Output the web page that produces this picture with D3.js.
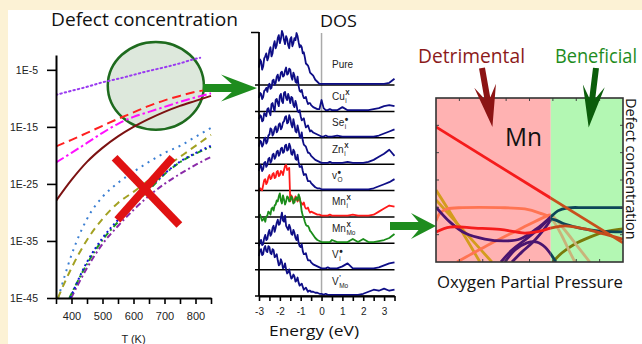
<!DOCTYPE html>
<html>
<head>
<meta charset="utf-8">
<script src="https://cdn.jsdelivr.net/npm/d3@7"></script>
<style>
  body { margin: 0; background: #fcf2d5; }
  svg { display: block; }
</style>
</head>
<body>
<svg id="chart" width="642" height="344"></svg>
<script>
// ---------- left panel: defect concentration vs temperature ----------
const tempTicks = [400, 500, 600, 700, 800];
const concTicks = [-45, -35, -25, -15, -5];
const tGrid = [350, 400, 450, 500, 550, 600, 650, 700, 750, 800, 850];

const tPurpleDot = [350, 400, 450, 500, 550, 600, 650, 700, 750, 800, 815];
const cPurpleDot = [-9.39, -8.68, -7.98, -7.19, -6.58, -5.88, -5.18, -4.56, -3.86, -3.07, -2.89];
const tRedDash = [350, 400, 450, 500, 550, 600, 650, 700, 750, 800, 827];
const cRedDash = [-18.42, -17.28, -16.05, -14.82, -13.6, -12.46, -11.32, -10.35, -9.56, -8.86, -8.6];
const cMagenta = [-21.23, -19.56, -17.81, -16.05, -14.47, -13.25, -12.37, -11.49, -10.61, -9.82, -9.12];
const cDarkRed = [-27.98, -24.3, -21.14, -18.68, -16.67, -15.0, -13.6, -12.37, -11.32, -10.44, -9.56];
const tBlueDot = [357, 400, 450, 500, 550, 600, 650, 700, 750, 800, 850];
const cBlueDot = [-45, -37.46, -31.14, -27.28, -24.82, -22.89, -21.14, -19.56, -18.33, -16.75, -15.18];
const tOlive = [356, 400, 450, 500, 550, 600, 650, 700, 750, 800, 850];
const cOlive = [-45, -39.74, -34.82, -31.14, -28.33, -26.4, -24.3, -22.19, -20.26, -18.33, -16.4];
const tGreen = [393, 450, 500, 550, 600, 650, 700, 750, 800, 850];
const cGreen = [-45, -39.04, -34.82, -31.67, -28.68, -26.05, -23.3, -21.2, -19.7, -18.5];
const tNavy = [396, 450, 500, 550, 600, 650, 700, 750, 800, 850];
const cNavy = [-45, -38.7, -34.5, -31.3, -28.4, -25.8, -23.2, -21.1, -19.6, -18.3];
const tViolet = [399, 450, 500, 550, 600, 650, 700, 750, 800, 850];
const cViolet = [-45, -39.74, -35.53, -32.37, -29.56, -27.1, -25.0, -23.25, -21.67, -20.26];

// highlighted region and crossed-out region, in (T, log c)
const highlight = { t: 672, c: -7.8, rt: 155, rc: 7.7 };
const crossT = [539, 748, 726, 548];
const crossC = [-20.4, -32.2, -20.4, -31.3];

// ---------- middle panel: DOS ----------
const energyTicks = [-3, -2.5, -2, -1.5, -1, -0.5, 0, 0.5, 1, 1.5, 2, 2.5, 3, 3.5];
const energyGrid = [
  -3.0, -2.95, -2.9, -2.85, -2.8, -2.75, -2.7, -2.65, -2.6, -2.55, -2.5, -2.45, -2.4, -2.35, -2.3, -2.25,
  -2.2, -2.15, -2.1, -2.05, -2.0, -1.95, -1.9, -1.85, -1.8, -1.75, -1.7, -1.65, -1.6, -1.55, -1.5, -1.45,
  -1.4, -1.35, -1.3, -1.25, -1.2, -1.15, -1.1, -1.05, -1.0, -0.95, -0.9, -0.85, -0.8, -0.75, -0.7, -0.65,
  -0.6, -0.55, -0.5,
  -0.4, -0.3, -0.2, -0.1, 0.0, 0.1, 0.2, 0.3, 0.4, 0.5,
  0.75, 1.0, 1.25, 1.5, 1.75, 2.0, 2.25, 2.5, 2.75, 3.0, 3.25, 3.5];
const dosPure = [16, 24, 22, 14, 17, 25, 27, 30, 23, 26, 33, 36, 27, 30, 38, 42, 35, 38, 45, 48, 40, 44, 52, 49, 43,
  39, 47, 44, 38, 35, 44, 46, 37, 40, 45, 43, 50, 47, 41, 36, 38, 36, 30, 31, 26, 20, 19, 18, 15, 11, 10,
  8, 4, 2, 0, 0, 0, 0, 0, 0, 0,
  0, 0, 0, 0, 0, 0, 0, 0, 0, 0, 1, 5];
const dosCu = [12, 17, 16, 11, 13, 19, 20, 22, 18, 24, 26, 21, 22, 29, 30, 25, 27, 33, 35, 29, 31, 37, 38, 33, 34,
  39, 42, 35, 36, 41, 40, 33, 30, 37, 34, 28, 27, 33, 24, 19, 18, 20, 15, 12, 12, 13, 9, 6, 7, 7, 5,
  3, 2, 1, 1, 10, 2, 0, 0, 1, 0,
  0, 3, 0, 0, 0, 0, 0, 1, 2, 4, 5, 4];
const dosSe = [17, 21, 20, 15, 16, 23, 22, 20, 27, 28, 24, 21, 32, 33, 28, 25, 36, 37, 33, 30, 40, 42, 35, 33, 43,
  44, 38, 36, 42, 38, 33, 39, 38, 31, 29, 35, 31, 25, 24, 26, 20, 16, 17, 18, 13, 9, 10, 11, 8, 5, 6,
  4, 3, 2, 1, 0, 0, 1, 0, 0, 0,
  1, 0, 0, 0, 0, 0, 0, 0, 1, 3, 5, 7];
const dosZn = [16, 22, 21, 16, 18, 24, 25, 19, 21, 27, 28, 34, 33, 27, 29, 34, 36, 30, 32, 38, 39, 33, 35, 40, 41,
  45, 46, 39, 40, 47, 44, 38, 35, 43, 38, 31, 30, 37, 32, 26, 25, 30, 22, 18, 17, 16, 13, 10, 10, 9, 7,
  5, 3, 2, 1, 0, 0, 0, 0, 1, 0,
  0, 0, 1, 0, 0, 0, 1, 3, 6, 9, 13, 7];
const dosVO = [18, 24, 23, 18, 20, 26, 27, 22, 24, 30, 31, 26, 28, 34, 35, 30, 32, 37, 38, 33, 35, 40, 41, 36, 37,
  43, 44, 38, 39, 45, 42, 35, 34, 39, 37, 30, 29, 34, 27, 22, 22, 23, 18, 14, 15, 15, 11, 8, 8, 8, 6,
  4, 2, 1, 1, 0, 0, 0, 0, 0, 0,
  0, 0, 0, 0, 0, 0, 0, 1, 3, 5, 7, 10];
const dosMnI = [24, 27, 26, 25, 30, 35, 36, 31, 33, 38, 40, 36, 37, 41, 42, 37, 38, 43, 44, 39, 40, 44, 43, 40, 45,
  49, 50, 45, 46, 47, 14, 20, 18, 13, 15, 19, 17, 14, 16, 17, 13, 12, 11, 13, 9, 7, 7, 8, 5, 3, 4,
  3, 2, 1, 1, 0, 0, 0, 0, 1, 0,
  0, 0, 0, 1, 0, 0, 0, 1, 4, 7, 10, 9];
const dosMnMo = [25, 27, 24, 21, 22, 24, 20, 25, 26, 30, 29, 27, 33, 34, 31, 36, 37, 41, 40, 45, 48, 41, 38, 46, 42,
  37, 40, 45, 44, 40, 41, 45, 43, 38, 39, 43, 44, 41, 47, 44, 38, 30, 26, 24, 20, 17, 16, 16, 14, 11, 10,
  7, 4, 2, 1, 0, 0, 0, 0, 0, 2,
  0, 0, 0, 3, 0, 3, 0, 0, 1, 2, 4, 8];
const dosVI = [22, 27, 28, 23, 24, 30, 33, 28, 29, 35, 38, 32, 34, 40, 42, 36, 40, 45, 48, 43, 44, 50, 55, 47, 46,
  52, 42, 40, 38, 43, 40, 34, 33, 38, 35, 30, 28, 33, 25, 22, 21, 24, 17, 14, 14, 15, 11, 8, 8, 8, 6,
  4, 3, 2, 1, 0, 0, 0, 1, 0, 0,
  0, 2, 5, 0, 0, 0, 0, 0, 1, 3, 5, 6];
const dosVMo = [38, 44, 45, 39, 40, 46, 48, 43, 42, 48, 47, 41, 40, 45, 44, 37, 38, 40, 34, 29, 30, 35, 32, 26, 27,
  31, 25, 21, 22, 25, 20, 16, 17, 20, 18, 13, 14, 17, 12, 9, 10, 11, 8, 5, 6, 7, 5, 3, 4, 4, 3,
  3, 2, 2, 1, 1, 0, 1, 0, 0, 0,
  0, 0, 0, 0, 0, 1, 3, 5, 4, 6, 4, 5];
// [main, subscript, superscript]
const dosLabels = [['Pure', '', ''], ['Cu', 'i', 'X'], ['Se', 'i', '•'], ['Zn', 'i', 'X'], ['v', 'O', '•'],
  ['Mn', 'i', 'X'], ['Mn', 'Mo', 'X'], ['V', 'i', '•'], ['V', 'Mo', "'"]];

// ---------- right panel: defect concentration vs oxygen partial pressure ----------
const regionSplit = 4.91;
const pStraight = [0, 8], dStraight = [4.94, 0.70];
const pGoldA = [0, 0.94, 1.88], dGoldA = [2.63, 1.35, 0];
const pGoldB = [0, 1.2, 2.39], dGoldB = [2.27, 1.13, 0];
const pSalmonTop = [0, 0.17, 0.47, 1.15, 2.74, 3.80, 4.44, 4.91, 5.30, 5.64, 5.94];
const dSalmonTop = [1.50, 1.79, 1.94, 1.99, 1.99, 1.94, 1.79, 1.61, 1.10, 0.51, 0];
const pSalmonRise = [0.90, 1.45, 2.31, 3.16, 4.02, 4.66, 4.91, 5.51, 6.07, 6.58];
const dSalmonRise = [0, 0.26, 0.66, 1.02, 1.39, 1.65, 1.72, 1.17, 0.55, 0];
const pRedLow = [0, 0.60, 1.67, 2.74, 3.80, 4.44, 4.91, 5.51, 6.37, 7.22, 7.99];
const dRedLow = [1.10, 1.28, 1.24, 1.19, 1.06, 1.13, 1.24, 1.32, 1.21, 1.02, 0.84];
const pPurple1 = [0, 0.60, 1.24, 2.09, 2.95, 3.59, 4.23, 4.66, 4.91, 5.21, 5.64, 6.37, 7.99];
const dPurple1 = [2.01, 1.46, 1.06, 0.84, 0.77, 0.84, 1.17, 1.46, 1.65, 1.87, 1.98, 1.99, 1.99];
const pPurple2 = [2.78, 3.25, 3.80, 4.44, 4.91, 5.51, 6.15, 7.01, 7.99];
const dPurple2 = [0, 0.44, 0.80, 1.24, 1.57, 1.39, 1.24, 1.13, 1.10];
const pPurple3 = [3.25, 3.68, 4.15, 4.66, 4.91], dPurple3 = [0, 0.37, 0.73, 1.24, 1.54];
const pPurple4 = [2.95, 3.38, 3.89, 4.32, 4.66, 4.91, 5.13], dPurple4 = [0, 0.44, 0.70, 0.73, 0.55, 0.29, 0];
const pOlive = [5.0, 5.38, 5.94, 6.58, 7.22, 7.99], dOlive = [0, 0.33, 0.66, 0.91, 1.10, 1.21];

const zip = (a, b) => a.map((v, i) => [v, b[i]]);
const textFont = "'Open Sans', 'Noto Sans', sans-serif";
const tickFont = "'Liberation Sans', Arial, sans-serif";

const svg = d3.select('#chart');
svg.append('rect').attr('width', 642).attr('height', 344).attr('fill', '#fcf2d5');
svg.append('rect').attr('x', 8).attr('y', 10).attr('width', 634).attr('height', 334).attr('fill', '#fff');

function label(x, y, txt, size, len, color) {
  const t = svg.append('text').attr('x', x).attr('y', y)
    .attr('font-family', textFont).attr('font-size', size).attr('fill', color || '#111').text(txt);
  if (len) t.attr('textLength', len).attr('lengthAdjust', 'spacingAndGlyphs');
  return t;
}

function arrow(x, y, angle, len, shaft, headLen, headW, color) {
  const hb = len - headLen, nb = hb + headLen * 0.3;
  const pts = [[0, -shaft / 2], [nb, -shaft / 2], [hb, -headW / 2], [len, 0], [hb, headW / 2], [nb, shaft / 2], [0, shaft / 2]];
  svg.append('polygon').attr('points', pts.map(p => p.join(',')).join(' '))
    .attr('transform', `translate(${x},${y}) rotate(${angle})`).attr('fill', color);
}

// ===== left panel =====
const xT = d3.scaleLinear().domain([350, 850]).range([56, 211]);
const yC = d3.scaleLinear().domain([-45, -2.4]).range([298, 55]);

label(51, 26, 'Defect concentration', 17.5, 187);

svg.append('clipPath').attr('id', 'clipL').append('rect')
  .attr('x', 57).attr('y', 45).attr('width', 160).attr('height', 253);

svg.append('ellipse')
  .attr('cx', xT(highlight.t)).attr('cy', yC(highlight.c))
  .attr('rx', xT(highlight.t + highlight.rt) - xT(highlight.t))
  .attr('ry', yC(highlight.c - highlight.rc) - yC(highlight.c))
  .attr('fill', '#dde8dc').attr('stroke', '#1e6b1e').attr('stroke-width', 2.5);

const lineT = d3.line().x(d => xT(d[0])).y(d => yC(d[1])).curve(d3.curveMonotoneX);
const leftSeries = [
  { t: tPurpleDot, c: cPurpleDot, color: '#9a3cf0', dash: '1.5,3' },
  { t: tRedDash, c: cRedDash, color: '#ff2020', dash: '9,5' },
  { t: tGrid, c: cMagenta, color: '#ff10ff', dash: '9,3,2.5,3' },
  { t: tGrid, c: cDarkRed, color: '#7c1212', dash: null },
  { t: tBlueDot, c: cBlueDot, color: '#3a7ed2', dash: '2,5' },
  { t: tOlive, c: cOlive, color: '#a3a122', dash: '7,5' },
  { t: tViolet, c: cViolet, color: '#8a2aa8', dash: '6,3,2,3' },
  { t: tGreen, c: cGreen, color: '#1d9a1d', dash: '6,3,2,3' },
  { t: tNavy, c: cNavy, color: '#1414d8', dash: '2,3' },
];
const gCurves = svg.append('g').attr('clip-path', 'url(#clipL)');
leftSeries.forEach(s => {
  gCurves.append('path').attr('d', lineT(zip(s.t, s.c)))
    .attr('fill', 'none').attr('stroke', s.color).attr('stroke-width', 2)
    .attr('stroke-linecap', s.dash && s.dash.startsWith('1.5') ? 'round' : 'butt')
    .attr('stroke-dasharray', s.dash);
});

// cross
[[0, 1], [2, 3]].forEach(([a, b]) => {
  svg.append('line')
    .attr('x1', xT(crossT[a])).attr('y1', yC(crossC[a]))
    .attr('x2', xT(crossT[b])).attr('y2', yC(crossC[b]))
    .attr('stroke', '#e01212').attr('stroke-width', 8);
});

function styleAxis(g, w) {
  g.select('.domain').attr('stroke', '#000').attr('stroke-width', w);
  g.selectAll('.tick line').attr('stroke', '#000').attr('stroke-width', 1.6);
  g.selectAll('text').attr('font-family', tickFont).attr('fill', '#222');
}

const yAx = svg.append('g').attr('transform', 'translate(56,0)')
  .call(d3.axisLeft(yC).tickValues(concTicks).tickFormat(d => '1E' + d)
    .tickSize(9).tickPadding(9).tickSizeOuter(0));
styleAxis(yAx, 2);
yAx.selectAll('text').attr('font-size', 10.5);

const xAx = svg.append('g').attr('transform', 'translate(0,298)')
  .call(d3.axisBottom(xT).tickValues(d3.range(350, 851, 50))
    .tickFormat(d => tempTicks.includes(d) ? d : '').tickSize(6).tickPadding(8).tickSizeOuter(0));
styleAxis(xAx, 2);
xAx.selectAll('text').attr('font-size', 11);

svg.append('text').attr('x', xT(600)).attr('y', 342.5).attr('text-anchor', 'middle')
  .attr('font-family', tickFont).attr('font-size', 11).attr('fill', '#222').text('T (K)');

arrow(203, 88, 0, 54, 8, 36, 27, '#1e8c1e');

// ===== middle panel: DOS =====
const xE = d3.scaleLinear().domain([-3, 3.5]).range([259, 394.5]);
const bandY = d3.scaleLinear().domain([0, 8]).range([85, 296]);
const dosH = d3.scaleLinear().domain([0, 26]).range([0, 26.4]);

label(320, 26.5, 'DOS', 17, 37);

svg.append('line').attr('x1', xE(0)).attr('x2', xE(0)).attr('y1', 33).attr('y2', 296)
  .attr('stroke', '#aaa').attr('stroke-width', 1.5);

d3.range(9).forEach(i => {
  svg.append('line').attr('x1', 255).attr('x2', xE(3.5)).attr('y1', bandY(i)).attr('y2', bandY(i))
    .attr('stroke', '#000').attr('stroke-width', 1.5);
});

const dosSeries = [
  { v: dosPure, color: '#0e0e86' }, { v: dosCu, color: '#0e0e86' }, { v: dosSe, color: '#0e0e86' },
  { v: dosZn, color: '#0e0e86' }, { v: dosVO, color: '#0e0e86' }, { v: dosMnI, color: '#ff1a1a' },
  { v: dosMnMo, color: '#1a8c1a' }, { v: dosVI, color: '#0e0e86' }, { v: dosVMo, color: '#0e0e86' },
];
dosSeries.forEach((s, i) => {
  const base = bandY(i) - 1.2;
  const line = d3.line().x(d => xE(d[0])).y(d => base - dosH(d[1]));
  svg.append('path').attr('d', line(zip(energyGrid, s.v)))
    .attr('fill', 'none').attr('stroke', s.color).attr('stroke-width', 1.8).attr('stroke-linejoin', 'round');
});

// axes of DOS
svg.append('line').attr('x1', 259).attr('x2', 259).attr('y1', 32).attr('y2', 296)
  .attr('stroke', '#000').attr('stroke-width', 1.8);
svg.append('line').attr('x1', 251).attr('x2', 259).attr('y1', 32.5).attr('y2', 32.5)
  .attr('stroke', '#000').attr('stroke-width', 1.5);
const eAx = svg.append('g').attr('transform', 'translate(0,296)')
  .call(d3.axisBottom(xE).tickValues(energyTicks)
    .tickFormat(d => Number.isInteger(d) ? String(d) : '').tickSize(5).tickPadding(7).tickSizeOuter(0));
styleAxis(eAx, 1.8);
eAx.selectAll('text').attr('font-size', 10);

label(269, 336, 'Energy  (eV)', 14.5, 90);

dosLabels.forEach((lab, i) => {
  const y = bandY(i) - (lab[1] ? 11.5 : 17);
  const t = svg.append('text').attr('x', 332).attr('y', y)
    .attr('font-family', tickFont).attr('font-size', 10).attr('fill', '#222').text(lab[0]);
  const w = t.node().getComputedTextLength();
  if (lab[1]) svg.append('text').attr('x', 332 + w + 0.5).attr('y', y + 3)
    .attr('font-family', tickFont).attr('font-size', 6.5).attr('fill', '#222').text(lab[1]);
  if (lab[2]) svg.append('text').attr('x', 332 + w + 0.5).attr('y', y - (lab[2] === '•' ? 3.5 : 5))
    .attr('font-family', tickFont).attr('font-size', lab[2] === '•' ? 10 : 6.5)
    .attr('font-weight', 'bold').attr('fill', '#222').text(lab[2]);
});

arrow(390, 226, 0, 46, 8, 25, 26, '#1e8c1e');

// ===== right panel =====
const xP = d3.scaleLinear().domain([0, 8]).range([436, 623]);
const yP = d3.scaleLinear().domain([0, 6]).range([262, 98]);

label(418, 63, 'Detrimental', 19.5, 107, '#8b1a1a');
label(555, 63, 'Beneficial', 19.5, 82, '#1e8c1e');

const split = xP(regionSplit);
const regions = [
  { id: 'clipPink', x0: xP(0), x1: split, fill: '#ffb2b2' },
  { id: 'clipGreen', x0: split, x1: xP(8), fill: '#b3f7b3' },
];
regions.forEach(r => {
  svg.append('rect').attr('x', r.x0).attr('y', yP(6)).attr('width', r.x1 - r.x0).attr('height', yP(0) - yP(6))
    .attr('fill', r.fill);
  svg.append('clipPath').attr('id', r.id).append('rect')
    .attr('x', r.x0).attr('y', yP(6)).attr('width', r.x1 - r.x0).attr('height', yP(0) - yP(6));
});

const lineP = d3.line().x(d => xP(d[0])).y(d => yP(d[1])).curve(d3.curveCatmullRom.alpha(0.5));
const rightSeries = [
  { p: pGoldA, d: dGoldA, pink: '#d49c1e', green: '#b8b050' },
  { p: pGoldB, d: dGoldB, pink: '#d49c1e', green: '#b8b050' },
  { p: pOlive, d: dOlive, pink: '#7a7a0a', green: '#7a7a0a' },
  { p: pSalmonRise, d: dSalmonRise, pink: '#ff7452', green: '#c9b47a' },
  { p: pSalmonTop, d: dSalmonTop, pink: '#ff7452', green: '#c9b47a' },
  { p: pPurple4, d: dPurple4, pink: '#4a156f', green: '#0c4658' },
  { p: pPurple3, d: dPurple3, pink: '#4a156f', green: '#0c4658' },
  { p: pPurple2, d: dPurple2, pink: '#4a156f', green: '#0c4658' },
  { p: pPurple1, d: dPurple1, pink: '#4a156f', green: '#0c4658' },
  { p: pRedLow, d: dRedLow, pink: '#f51c1c', green: '#c44a1c' },
  { p: pStraight, d: dStraight, pink: '#f51c1c', green: '#c8501c' },
];
['pink', 'green'].forEach((k, ri) => {
  const g = svg.append('g').attr('clip-path', `url(#${regions[ri].id})`);
  rightSeries.forEach(s => {
    g.append('path').attr('d', lineP(zip(s.p, s.d)))
      .attr('fill', 'none').attr('stroke', s[k]).attr('stroke-width', 2.8);
  });
});

// frame and inner ticks
const frame = svg.append('g').attr('stroke', '#444').attr('stroke-width', 1);
d3.range(1, 6).forEach(v => {
  frame.append('line').attr('x1', xP(0)).attr('x2', xP(0) + 3).attr('y1', yP(v)).attr('y2', yP(v));
  frame.append('line').attr('x1', xP(8)).attr('x2', xP(8) - 3).attr('y1', yP(v)).attr('y2', yP(v));
});
d3.range(1, 8).forEach(v => {
  frame.append('line').attr('x1', xP(v)).attr('x2', xP(v)).attr('y1', yP(0)).attr('y2', yP(0) - 3);
  frame.append('line').attr('x1', xP(v)).attr('x2', xP(v)).attr('y1', yP(6)).attr('y2', yP(6) + 3);
});
svg.append('rect').attr('x', xP(0)).attr('y', yP(6)).attr('width', xP(8) - xP(0)).attr('height', yP(0) - yP(6))
  .attr('fill', 'none').attr('stroke', '#333').attr('stroke-width', 1.6);

label(505, 146, 'Mn', 25, 37);
label(437, 288, 'Oxygen Partial Pressure', 16, 186);
svg.append('text').attr('transform', 'translate(626,98) rotate(90)')
  .attr('font-family', textFont).attr('font-size', 14.5).attr('fill', '#111').text('Defect concentration');

arrow(482, 68, 80, 60, 6, 42, 22, '#8c1414');
arrow(596, 68, 97, 60, 6, 42, 22, '#0b5d0b');
</script>
</body>
</html>
